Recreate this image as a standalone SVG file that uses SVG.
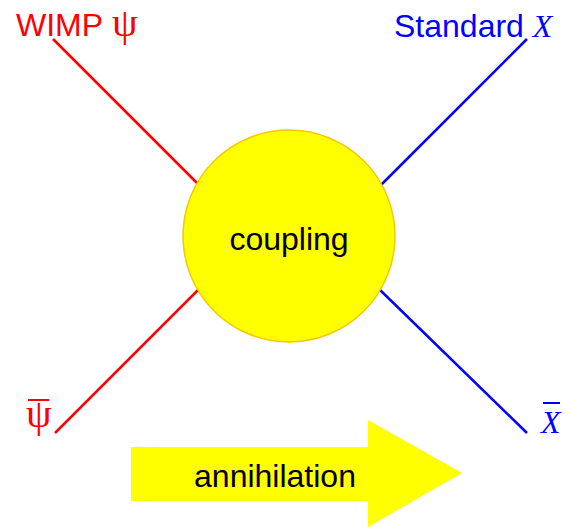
<svg xmlns="http://www.w3.org/2000/svg" width="567" height="527" viewBox="0 0 567 527">
<style>
.sans{font-family:"Liberation Sans",Arial,sans-serif;font-size:32px}
.serif{font-family:"Liberation Serif","Times New Roman",serif;font-size:32px}
.psi{font-family:"Liberation Serif","Times New Roman",serif;font-size:41px}
.red{fill:#ff0000}
.blue{fill:#0000ff}
.lr{stroke:#ff0000;stroke-width:2.5;fill:none}
.lb{stroke:#0000ff;stroke-width:2.5;fill:none}
</style>
<rect width="567" height="527" fill="#ffffff"/>
<g id="connectors">
<line class="lr" x1="53" y1="39" x2="200" y2="186"/>
<line class="lr" x1="55" y1="433" x2="200" y2="288"/>
<line class="lb" x1="527" y1="39" x2="378" y2="188"/>
<line class="lb" x1="527" y1="433" x2="378" y2="288"/>
</g>
<g id="coupling">
<circle cx="289" cy="236" r="106" fill="#ffff00" stroke="#f5c800" stroke-width="1.5"/>
<text class="sans" x="289" y="250" text-anchor="middle" fill="#000000">coupling</text>
</g>
<g id="wimp">
<text class="sans red" x="16" y="36">WIMP</text>
<text class="psi red" x="112" y="36">ψ</text>
</g>
<g id="standard">
<text class="sans blue" x="394" y="37">Standard <tspan class="serif" font-style="italic">X</tspan></text>
</g>
<g id="psibar">
<text class="psi red" x="26" y="427">ψ</text>
<line x1="28" y1="400" x2="49" y2="400" stroke="#ff0000" stroke-width="2"/>
</g>
<g id="xbar">
<text class="serif blue" x="541" y="433" font-style="italic">X</text>
<line x1="543" y1="403" x2="560" y2="403" stroke="#0000ff" stroke-width="2"/>
</g>
<g id="annihilation">
<polygon points="131,447 368,447 368,420 462,473 368,527 368,501 131,501" fill="#ffff00"/>
<text class="sans" x="275" y="487" text-anchor="middle" fill="#000000">annihilation</text>
</g>
</svg>
